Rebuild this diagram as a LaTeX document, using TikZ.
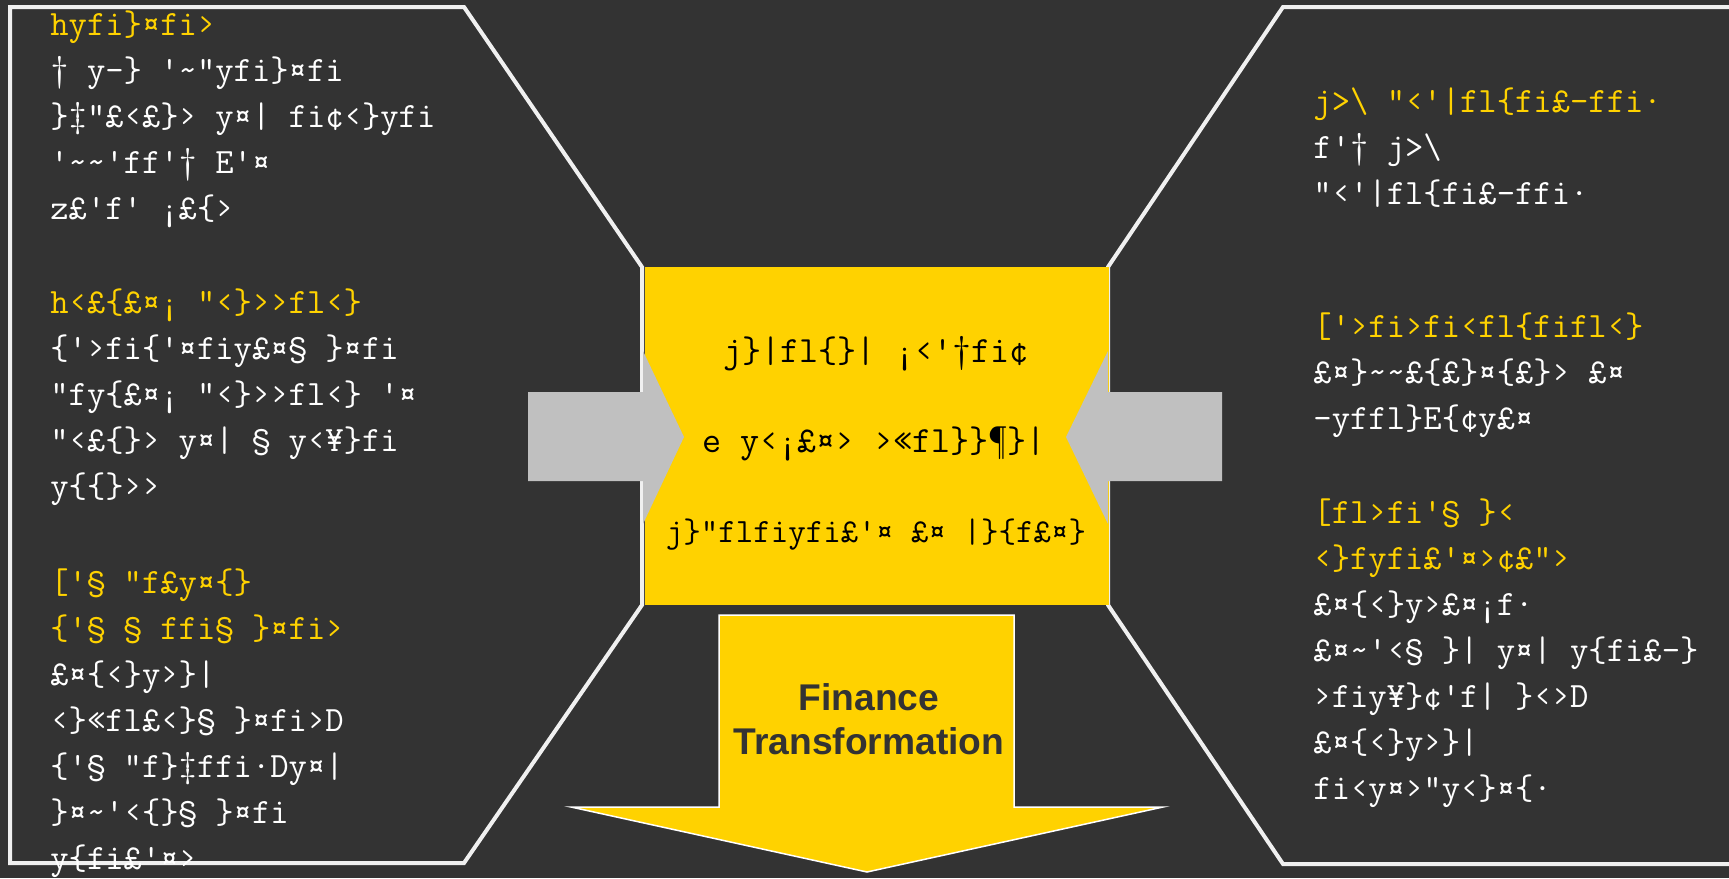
\documentclass[tikz,border=0pt]{standalone}
\usepackage{fontspec}
\setmainfont{Liberation Sans}
\usepackage{xcolor}
\usepackage{tikz}
\usetikzlibrary{calc,positioning}

\definecolor{eyyellow}{RGB}{255,210,0}
\definecolor{bggray}{RGB}{51,51,51}
\definecolor{arrowgray}{RGB}{192,192,192}
\definecolor{edgewhite}{RGB}{240,240,240}

\newcommand{\hd}[1]{\textcolor{eyyellow}{#1}}
\newcommand{\tl}{\textasciitilde}

\tikzset{
    panel/.style={draw=edgewhite, line width=2pt, line join=miter},
    bodytext/.style={font=\ttfamily\fontsize{17.8}{23}\selectfont, text=white,
        align=left, anchor=north west, inner sep=0pt},
    midtext/.style={font=\ttfamily\fontsize{18.5}{23}\selectfont, text=black,
        anchor=base, inner sep=0pt}
}

\begin{document}
\begin{tikzpicture}[x=0.5pt, y=-0.5pt]

    % Background
    \fill[bggray] (0,0) rectangle (1729,878);
    \useasboundingbox (0,0) rectangle (1729,878);

    % Panels
    \draw[panel] (10,7) -- (464,7) -- (642,267) -- (642,605) -- (464,863) -- (10,863) -- cycle;
    \draw[panel] (1740,7) -- (1283,7) -- (1108,267) -- (1108,605) -- (1283,864) -- (1740,864);

    % Centre box
    \fill[eyyellow] (645,267) rectangle (1109,605);

    % Gray arrows
    \fill[arrowgray] (528,392) -- (643,392) -- (643,351) -- (684,437) -- (643,524) -- (643,481) -- (528,481) -- cycle;
    \fill[arrowgray] (1222,392) -- (1108,392) -- (1108,351) -- (1066,437) -- (1108,524) -- (1108,481) -- (1222,481) -- cycle;

    % Down arrow
    \draw[draw=white, line width=0.75pt, fill=eyyellow] (719,615) -- (1014,615) -- (1014,807) -- (1163,807)
        -- (867,872) -- (571,807) -- (719,807) -- cycle;
    \node[font=\bfseries\fontsize{18.6}{22}\selectfont, text=bggray, align=center] (fintrans) at (869,719)
        {Finance\\Transformation};

    % Left panel
    \node[bodytext] (lft1) at (50,2.8) {\strut\hd{hyfi\}¤fi›}\\
        † y–\} '\tl"yfi\}¤fi\\
        \}‡"£‹£\}› y¤| fi¢‹\}yfi\\
        '\tl\tl'ff'† E'¤\\
        z£'ƒ' ¡£\{›};
    \node[bodytext] (lft2) at (50,280.8) {\strut\hd{h‹£\{£¤¡ "‹\}››fl‹\}}\\
        \{'›fi\{'¤fiy£¤§ \}¤fi\\
        "ƒy\{£¤¡ "‹\}››fl‹\} '¤\\
        "‹£\{\}› y¤| § y‹¥\}fi\\
        y\{\{\}››};
    \node[bodytext] (lft3) at (50,560.8) {\strut\hd{['§ "ƒ£y¤\{\}}\\
        \hd{\{'§ § ffi§ \}¤fi›}\\
        £¤\{‹\}y›\}|\\
        ‹\}«fl£‹\}§ \}¤fi›D\\
        \{'§ "ƒ\}‡ffi·Dy¤|\\
        \}¤\tl'‹\{\}§ \}¤fi\\
        y\{fi£'¤›};

    % Right panel
    \node[bodytext] (rgt1) at (1313,79.8) {\strut\hd{j>\textbackslash\ "‹'|fl\{fi£–ffi·}\\
        ƒ'† j>\textbackslash\\
        "‹'|fl\{fi£–ffi·};
    \node[bodytext] (rgt2) at (1313,304.8) {\strut\hd{['›fi›fi‹fl\{fifl‹\}}\\
        £¤\}\tl\tl£\{£\}¤\{£\}› £¤\\
        –yƒfl\}E\{¢y£¤};
    \node[bodytext] (rgt3) at (1313,490.8) {\strut\hd{[fl›fi'§ \}‹}\\
        \hd{‹\}ƒyfi£'¤›¢£"›}\\
        £¤\{‹\}y›£¤¡ƒ·\\
        £¤\tl'‹§ \}| y¤| y\{fi£–\}\\
        ›fiy¥\}¢'ƒ| \}‹›D\\
        £¤\{‹\}y›\}|\\
        fi‹y¤›"y‹\}¤\{·};

    % Centre text
    \node[midtext] (ctr1) at (876,362) {j\}|fl\{\}| ¡‹'†fi¢};
    \node[midtext] (ctr2) at (874,452) {e y‹¡£¤› ›«fl\}\}¶\}|};
    \node[midtext, font=\ttfamily\fontsize{17}{23}\selectfont] (ctr3) at (876,542) {j\}"flfiyfi£'¤ £¤ |\}\{ƒ£¤\}};

\end{tikzpicture}
\end{document}
